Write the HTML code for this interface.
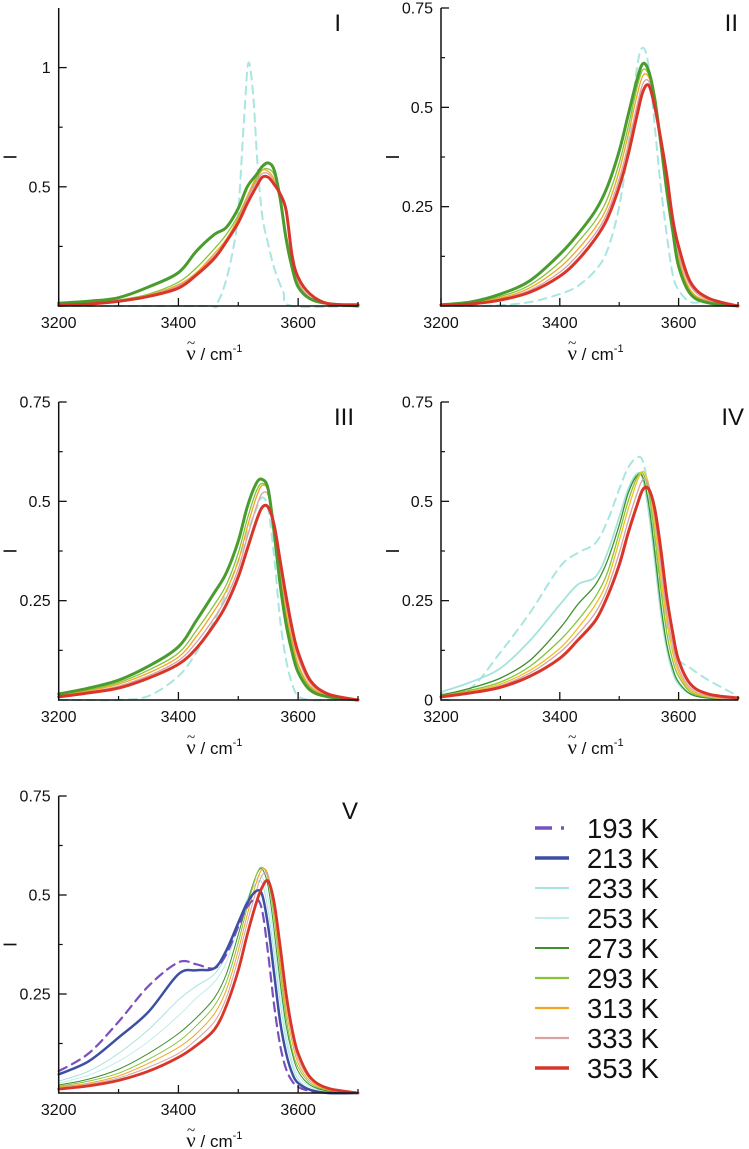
<!DOCTYPE html>
<html><head><meta charset="utf-8">
<style>
html,body{margin:0;padding:0;background:#fff;}
svg{display:block;font-family:"Liberation Sans",sans-serif;}
</style></head>
<body>
<svg id="fig" width="749" height="1149" viewBox="0 0 749 1149" xmlns="http://www.w3.org/2000/svg"></svg>
<script>
// common wavenumber grid (cm^-1)
const wn = [3200,3250,3300,3350,3400,3430,3460,3480,3500,3515,3530,3540,3550,3560,3570,3580,3590,3600,3620,3650,3700];
const xTicksMajor = [3200,3400,3600];
const xTicksMinor = [3300,3500,3700];
const xTickLabels = ["3200","3400","3600"];
const legendLabels = ["193 K","213 K","233 K","253 K","273 K","293 K","313 K","333 K","353 K"];

// Panel I
const wnDashI = [3200,3440,3460,3475,3490,3500,3510,3517,3525,3532,3540,3550,3560,3575,3590,3700];
const iDashI  = [0,0,0,0.07,0.22,0.4,0.8,1.02,0.88,0.6,0.38,0.26,0.16,0.06,0,0];
const iGreenI = [0.012,0.02,0.035,0.08,0.14,0.23,0.30,0.33,0.41,0.5,0.55,0.585,0.6,0.57,0.45,0.28,0.16,0.08,0.03,0.01,0];
const iLimeI  = [0.005,0.012,0.025,0.05,0.1,0.16,0.24,0.3,0.38,0.46,0.53,0.57,0.575,0.55,0.45,0.3,0.17,0.09,0.03,0.01,0];
const iOrangeI= [0.005,0.01,0.022,0.045,0.09,0.14,0.22,0.28,0.37,0.46,0.54,0.57,0.565,0.53,0.44,0.3,0.18,0.1,0.035,0.01,0];
const iPinkI  = [0.004,0.009,0.02,0.042,0.085,0.135,0.21,0.27,0.36,0.45,0.52,0.555,0.555,0.52,0.44,0.3,0.18,0.1,0.035,0.01,0];
const iRedI   = [0.003,0.008,0.02,0.04,0.075,0.13,0.2,0.27,0.35,0.43,0.5,0.54,0.54,0.51,0.47,0.4,0.21,0.12,0.05,0.01,0.005];

// Panel II
const iDashII  = [0,0,0.002,0.01,0.03,0.05,0.09,0.14,0.25,0.4,0.6,0.65,0.6,0.45,0.3,0.18,0.08,0.04,0.01,0.01,0];
const iGreenII = [0.003,0.01,0.03,0.064,0.13,0.18,0.24,0.3,0.39,0.48,0.57,0.61,0.59,0.52,0.41,0.29,0.19,0.1,0.03,0.008,0];
const iLimeII  = [0.002,0.008,0.024,0.053,0.11,0.16,0.215,0.27,0.36,0.45,0.55,0.595,0.58,0.52,0.42,0.3,0.2,0.11,0.035,0.01,0];
const iOrangeII= [0.002,0.007,0.02,0.046,0.097,0.142,0.198,0.25,0.34,0.43,0.53,0.58,0.575,0.52,0.42,0.31,0.21,0.12,0.04,0.012,0];
const iPinkII  = [0.002,0.006,0.017,0.04,0.085,0.128,0.183,0.235,0.32,0.405,0.505,0.56,0.565,0.51,0.42,0.32,0.21,0.13,0.05,0.015,0];
const iRedII   = [0.002,0.005,0.015,0.035,0.075,0.115,0.17,0.22,0.3,0.38,0.48,0.54,0.555,0.5,0.42,0.33,0.22,0.15,0.06,0.02,0];

// Panel III
const iDashIII  = [0,0,0,0.01,0.06,0.12,0.2,0.27,0.35,0.42,0.48,0.51,0.48,0.36,0.2,0.1,0.04,0.01,0,0,0];
const iGreenIII = [0.015,0.03,0.05,0.085,0.134,0.2,0.27,0.32,0.4,0.486,0.545,0.555,0.53,0.42,0.29,0.19,0.12,0.07,0.025,0.008,0];
const iLimeIII  = [0.012,0.025,0.044,0.075,0.118,0.175,0.24,0.29,0.37,0.455,0.525,0.545,0.525,0.43,0.31,0.21,0.14,0.085,0.032,0.01,0];
const iOrangeIII= [0.011,0.023,0.04,0.068,0.108,0.16,0.225,0.275,0.35,0.435,0.51,0.54,0.525,0.44,0.32,0.22,0.15,0.09,0.035,0.011,0];
const iPinkIII  = [0.01,0.02,0.035,0.061,0.099,0.145,0.207,0.257,0.33,0.41,0.485,0.52,0.515,0.445,0.335,0.24,0.165,0.105,0.042,0.013,0];
const iRedIII   = [0.008,0.018,0.03,0.055,0.09,0.13,0.19,0.24,0.31,0.38,0.45,0.485,0.485,0.44,0.35,0.26,0.18,0.12,0.05,0.015,0];

// Panel IV
const iDashIV   = [0.015,0.03,0.12,0.22,0.335,0.37,0.395,0.45,0.53,0.585,0.61,0.6,0.52,0.4,0.28,0.19,0.13,0.1,0.08,0.05,0.01];
const iCyanIV   = [0.02,0.045,0.08,0.15,0.24,0.29,0.31,0.37,0.46,0.53,0.57,0.555,0.47,0.35,0.22,0.13,0.07,0.04,0.015,0.005,0];
const iDkGreenIV= [0.012,0.03,0.055,0.1,0.18,0.24,0.29,0.35,0.44,0.52,0.565,0.56,0.49,0.37,0.24,0.14,0.08,0.045,0.015,0.005,0];
const iLimeIV   = [0.01,0.025,0.045,0.085,0.15,0.2,0.26,0.32,0.42,0.5,0.56,0.57,0.52,0.41,0.28,0.17,0.1,0.06,0.02,0.007,0];
const iOrangeIV = [0.01,0.022,0.04,0.075,0.13,0.18,0.24,0.3,0.4,0.48,0.55,0.575,0.54,0.44,0.31,0.2,0.12,0.07,0.025,0.008,0];
const iPinkIV   = [0.009,0.02,0.036,0.068,0.12,0.165,0.22,0.28,0.37,0.45,0.52,0.555,0.54,0.46,0.34,0.22,0.14,0.08,0.03,0.01,0];
const iRedIV    = [0.008,0.018,0.032,0.06,0.105,0.15,0.2,0.26,0.34,0.42,0.49,0.53,0.53,0.48,0.38,0.26,0.17,0.1,0.04,0.015,0.005];

// Panel V
const i193V = [0.055,0.1,0.18,0.27,0.33,0.325,0.315,0.35,0.42,0.47,0.49,0.46,0.35,0.22,0.12,0.06,0.03,0.015,0.005,0,0];
const i213V = [0.047,0.08,0.14,0.205,0.3,0.31,0.315,0.36,0.43,0.48,0.51,0.5,0.42,0.3,0.18,0.1,0.05,0.025,0.008,0,0];
const i233V = [0.03,0.055,0.1,0.16,0.235,0.27,0.3,0.35,0.43,0.49,0.53,0.53,0.46,0.35,0.23,0.13,0.07,0.035,0.01,0.003,0];
const i253V = [0.025,0.045,0.08,0.13,0.195,0.24,0.28,0.33,0.42,0.49,0.54,0.545,0.49,0.38,0.26,0.15,0.08,0.045,0.015,0.004,0];
const i273V = [0.02,0.035,0.06,0.1,0.15,0.19,0.24,0.3,0.4,0.48,0.55,0.565,0.52,0.41,0.28,0.17,0.1,0.055,0.02,0.005,0];
const i293V = [0.017,0.03,0.05,0.085,0.13,0.17,0.22,0.28,0.38,0.47,0.55,0.57,0.54,0.44,0.31,0.19,0.11,0.065,0.025,0.007,0];
const i313V = [0.015,0.025,0.043,0.075,0.115,0.15,0.2,0.26,0.36,0.45,0.53,0.565,0.55,0.46,0.33,0.21,0.13,0.075,0.03,0.008,0];
const i333V = [0.013,0.022,0.038,0.065,0.1,0.135,0.18,0.24,0.34,0.43,0.51,0.55,0.55,0.47,0.35,0.23,0.145,0.085,0.035,0.01,0];
const i353V = [0.01,0.018,0.032,0.055,0.09,0.12,0.16,0.22,0.31,0.4,0.48,0.52,0.535,0.48,0.37,0.25,0.16,0.1,0.04,0.012,0];

const C = {p193:"#7b4fbf",b213:"#3c4fa3",c233:"#a6e3dc",c253:"#bfeeea",g273:"#3e8e2a",g293:"#86c43a",o313:"#f2a623",k333:"#d9a3a3",r353:"#d9362b",gThick:"#4a9c2e",dash:"#a8e6df"};

const NS="http://www.w3.org/2000/svg";
const svg=document.getElementById('fig');
function mk(tag,attrs,parent){const e=document.createElementNS(NS,tag);for(const k in attrs)e.setAttribute(k,attrs[k]);(parent||svg).appendChild(e);return e;}

function smoothPath(pts){
  let d="M"+pts[0][0].toFixed(2)+","+pts[0][1].toFixed(2);
  for(let i=0;i<pts.length-1;i++){
    const p0=pts[Math.max(0,i-1)],p1=pts[i],p2=pts[i+1],p3=pts[Math.min(pts.length-1,i+2)];
    const c1x=p1[0]+(p2[0]-p0[0])/6,c1y=p1[1]+(p2[1]-p0[1])/6;
    const c2x=p2[0]-(p3[0]-p1[0])/6,c2y=p2[1]-(p3[1]-p1[1])/6;
    d+=" C"+c1x.toFixed(2)+","+c1y.toFixed(2)+" "+c2x.toFixed(2)+","+c2y.toFixed(2)+" "+p2[0].toFixed(2)+","+p2[1].toFixed(2);
  }
  return d;
}

function panel(cfg){
  const g=mk('g',{});
  
  
  const xS=v=>cfg.x0+(v-3200)/500*(cfg.x1-cfg.x0);
  const yS=v=>cfg.y0-(v/cfg.ymax)*(cfg.y0-cfg.yTop);
  cfg.series.forEach(s=>{
    const xs=s.x||wn;
    const pts=xs.map((w,i)=>[xS(w),Math.min(cfg.y0,yS(s.y[i]))]);
    const p=mk('path',{d:smoothPath(pts),fill:"none",stroke:s.c,"stroke-width":s.w,"stroke-linejoin":"round","stroke-linecap":"round"},g);
    if(s.dash)p.setAttribute('stroke-dasharray',s.dash);
    
    
  });
  const ax=mk('path',{d:`M${cfg.x0},${cfg.yTop} V${cfg.y0} H${cfg.x1}`,fill:"none",stroke:"#111","stroke-width":1.5},g);
  
  
  cfg.yMajor.forEach((v,i)=>{
    const y=yS(v);
    mk('line',{x1:cfg.x0,x2:cfg.x0+8,y1:y,y2:y,stroke:"#111","stroke-width":1.3},g);
    const t=mk('text',{x:cfg.x0-8,y:y+5.5,"text-anchor":"end","font-size":16,fill:"#111"},g);
    t.textContent=cfg.yLabels[i];
    
    
  });
  cfg.yMinor.forEach(v=>{const y=yS(v);mk('line',{x1:cfg.x0,x2:cfg.x0+4,y1:y,y2:y,stroke:"#111","stroke-width":1.2},g);});
  xTicksMajor.forEach((v,i)=>{
    const x=xS(v);
    mk('line',{x1:x,x2:x,y1:cfg.y0,y2:cfg.y0-8,stroke:"#111","stroke-width":1.3},g);
    const t=mk('text',{x:x,y:cfg.y0+22,"text-anchor":"middle","font-size":16,fill:"#111"},g);
    t.textContent=xTickLabels[i];
    
    
  });
  xTicksMinor.forEach(v=>{const x=xS(v);mk('line',{x1:x,x2:x,y1:cfg.y0,y2:cfg.y0-4,stroke:"#111","stroke-width":1.2},g);});
  const pl=mk('text',{x:cfg.lx,y:cfg.yTop+23,"text-anchor":"end","font-size":24,fill:"#111"},g);
  pl.textContent=cfg.id;
  
  
  const yc=(cfg.yTop+cfg.y0)/2;
  const yt=mk('text',{x:cfg.x0-48,y:yc,"text-anchor":"middle","font-size":18,fill:"#111",transform:`rotate(-90 ${cfg.x0-48} ${yc}) translate(0,6)`},g);
  yt.textContent="I";
  
  
  // x axis title: nu with tilde above
  const cx=(cfg.x0+cfg.x1)/2, by=cfg.y0+54;
  const xt=mk('text',{x:cx+6,y:by,"text-anchor":"middle","font-size":17,fill:"#111"},g);
  xt.innerHTML='<tspan font-family="Liberation Serif, serif" font-size="21">ν</tspan> / cm<tspan font-size="11" dy="-8">-1</tspan>';
  
  
  let nx=cx-33;
  try{const a=xt.getStartPositionOfChar(0).x,b=xt.getEndPositionOfChar(0).x;nx=(a+b)/2;}catch(e){}
  const tl=mk('text',{x:nx,y:by-12,"text-anchor":"middle","font-size":15,fill:"#111","font-family":"Liberation Serif, serif"},g);
  tl.textContent="~";
  
  
}

const thick=3, thin=1.3;
const stdY={ymax:0.75,yMajor:[0.25,0.5,0.75],yLabels:["0.25","0.5","0.75"],yMinor:[0.125,0.375,0.625]};

panel({id:"I",x0:58.7,x1:358,y0:306,yTop:8,ymax:1.25,yMajor:[0.5,1],yLabels:["0.5","1"],yMinor:[0.25,0.75],lx:341,
  series:[
    {n:"253k-dashed",x:wnDashI,y:iDashI,c:C.dash,w:2,dash:"8,6"},
    {n:"293k",y:iLimeI,c:C.g293,w:thin},
    {n:"313k",y:iOrangeI,c:C.o313,w:thin},
    {n:"333k",y:iPinkI,c:C.k333,w:thin},
    {n:"273k",y:iGreenI,c:C.gThick,w:thick},
    {n:"353k",y:iRedI,c:C.r353,w:thick}]});

panel(Object.assign({id:"II",x0:441,x1:738,y0:306,yTop:8,lx:738,
  series:[
    {n:"253k-dashed",y:iDashII,c:C.dash,w:2,dash:"8,6"},
    {n:"293k",y:iLimeII,c:C.g293,w:thin},
    {n:"313k",y:iOrangeII,c:C.o313,w:thin},
    {n:"333k",y:iPinkII,c:C.k333,w:thin},
    {n:"273k",y:iGreenII,c:C.gThick,w:thick},
    {n:"353k",y:iRedII,c:C.r353,w:thick}]},stdY));

panel(Object.assign({id:"III",x0:58.7,x1:358,y0:700,yTop:402,lx:354,
  series:[
    {n:"253k-dashed",y:iDashIII,c:C.dash,w:2,dash:"8,6"},
    {n:"293k",y:iLimeIII,c:C.g293,w:thin},
    {n:"313k",y:iOrangeIII,c:C.o313,w:thin},
    {n:"333k",y:iPinkIII,c:C.k333,w:thin},
    {n:"273k",y:iGreenIII,c:C.gThick,w:thick},
    {n:"353k",y:iRedIII,c:C.r353,w:thick}]},stdY));

panel({id:"IV",x0:441,x1:738,y0:700,yTop:402,ymax:0.75,yMajor:[0,0.25,0.5,0.75],yLabels:["0","0.25","0.5","0.75"],yMinor:[0.125,0.375,0.625],lx:744,
  series:[
    {n:"233k-dashed",y:iDashIV,c:C.dash,w:2,dash:"8,6"},
    {n:"253k",y:iCyanIV,c:C.c233,w:1.8},
    {n:"273k",y:iDkGreenIV,c:C.g273,w:thin},
    {n:"293k",y:iLimeIV,c:C.g293,w:thin},
    {n:"313k",y:iOrangeIV,c:"#f0c020",w:thin},
    {n:"333k",y:iPinkIV,c:C.k333,w:thin},
    {n:"353k",y:iRedIV,c:C.r353,w:thick}]});

panel(Object.assign({id:"V",x0:58.7,x1:358,y0:1093,yTop:796,lx:358,
  series:[
    {n:"233k",y:i233V,c:C.c233,w:1},
    {n:"253k",y:i253V,c:C.c253,w:1},
    {n:"273k",y:i273V,c:C.g273,w:1},
    {n:"293k",y:i293V,c:C.g293,w:1},
    {n:"313k",y:i313V,c:C.o313,w:1},
    {n:"333k",y:i333V,c:C.k333,w:1},
    {n:"193k",y:i193V,c:C.p193,w:2.2,dash:"9,6"},
    {n:"213k",y:i213V,c:C.b213,w:2.5},
    {n:"353k",y:i353V,c:C.r353,w:2.8}]},stdY));

const legStyles=[
  {c:C.p193,w:3.5,dash:"17,9,3,20"},{c:C.b213,w:3.5},{c:C.c233,w:2},{c:C.c253,w:2},
  {c:C.g273,w:2},{c:C.g293,w:2.2},{c:C.o313,w:2.2},{c:C.k333,w:2.2},{c:C.r353,w:3.5}];
const lg=mk('g',{});


legendLabels.forEach((lab,i)=>{
  const y=828+i*30;
  const e=mk('g',{},lg);
  
  
  const ln=mk('line',{x1:535,x2:569,y1:y,y2:y,stroke:legStyles[i].c,"stroke-width":legStyles[i].w},e);
  if(legStyles[i].dash)ln.setAttribute('stroke-dasharray',legStyles[i].dash);
  const t=mk('text',{x:587,y:y+10,"font-size":27.5,fill:"#111"},e);
  t.textContent=lab;
});
</script>
</body></html>
